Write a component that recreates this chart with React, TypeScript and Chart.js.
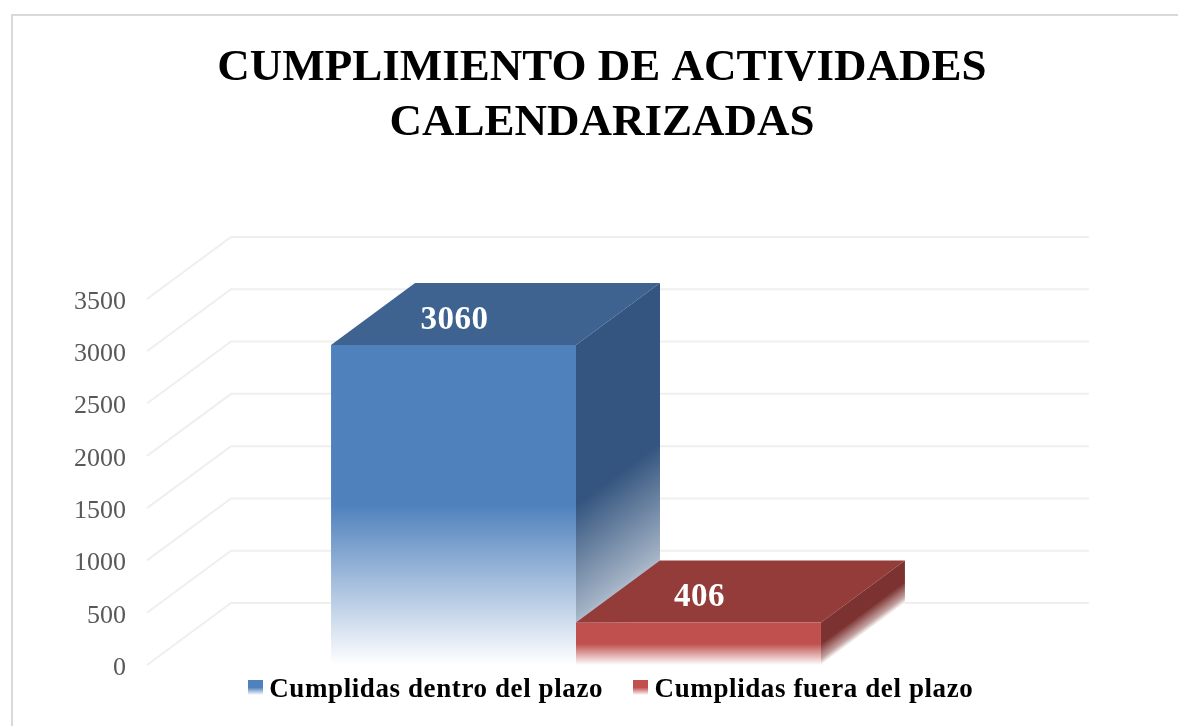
import React, { useEffect, useRef } from "react";
import { Chart, registerables } from "chart.js";

Chart.register(...registerables);

const categories = ["Actividades"];
const seriesNames = ["Cumplidas dentro del plazo", "Cumplidas fuera del plazo"];
const seriesValues = [[3060], [406]];
const frontColors = ["#4F81BD", "#C0504D"];
const topColors = ["#3E6391", "#933C39"];
const sideColors = ["#34557F", "#7C3230"];
const sideRgb = ["52,85,127", "124,50,48"];
const titleLines = ["CUMPLIMIENTO DE ACTIVIDADES", "CALENDARIZADAS"];

const SERIF = "'Liberation Serif', serif";
const DEPTH_X = 84;
const DEPTH_Y = -62;

function legendSwatch(color: string) {
  const c = document.createElement("canvas");
  c.width = 15;
  c.height = 21;
  const g = c.getContext("2d")!;
  const gr = g.createLinearGradient(0, 0, 0, 15);
  gr.addColorStop(0, color);
  gr.addColorStop(0.5, color);
  gr.addColorStop(1, "#ffffff");
  g.fillStyle = gr;
  g.fillRect(0, 0, 15, 15);
  return c;
}

const threeD = {
  id: "threeD",
  afterLayout(chart: any) {
    const shiftT = 602 - (chart.titleBlock.left + chart.titleBlock.right) / 2;
    chart.titleBlock.left += shiftT;
    chart.titleBlock.right += shiftT;
    const shiftL = 599 - (chart.legend.left + chart.legend.right) / 2;
    chart.legend.left += shiftL;
    chart.legend.right += shiftL;
    chart.legend.top -= 25.5;
    chart.legend.bottom = chart.height;
    for (const [box, sp] of [[chart.legend, "0.6px"]] as any[]) {
      if (!box.__wrapped) {
        const d = box.draw;
        box.draw = function (...a: any[]) {
          const ctx = chart.ctx;
          ctx.letterSpacing = sp;
          d.apply(box, a);
          ctx.letterSpacing = "0px";
        };
        box.__wrapped = true;
      }
    }
  },
  beforeDraw(chart: any) {
    const { ctx, width, height } = chart;
    ctx.save();
    ctx.fillStyle = "#fff";
    ctx.fillRect(0, 0, width, height);
    ctx.strokeStyle = "#d9d9d9";
    ctx.lineWidth = 2;
    ctx.strokeRect(12, 15, width + 40, height + 40);
    ctx.restore();
  },
  beforeDatasetsDraw(chart: any) {
    const { ctx, chartArea } = chart;
    const y = chart.scales.y;
    ctx.save();
    ctx.strokeStyle = "#efefef";
    ctx.lineWidth = 2;
    y.ticks.forEach((t: any) => {
      const py = y.getPixelForValue(t.value);
      ctx.beginPath();
      ctx.moveTo(chartArea.left, py);
      ctx.lineTo(chartArea.left + DEPTH_X, py + DEPTH_Y);
      ctx.lineTo(chartArea.right + DEPTH_X, py + DEPTH_Y);
      ctx.stroke();
    });
    chart.data.datasets.forEach((_: any, i: number) => {
      const bar = chart.getDatasetMeta(i).data[0];
      const x0 = bar.x - bar.width / 2;
      const x1 = bar.x + bar.width / 2;
      const top = bar.y;
      const base = bar.base;
      const mid = top + (base - top) * 0.5;
      ctx.fillStyle = topColors[i];
      ctx.beginPath();
      ctx.moveTo(x0, top);
      ctx.lineTo(x0 + DEPTH_X, top + DEPTH_Y);
      ctx.lineTo(x1 + DEPTH_X, top + DEPTH_Y);
      ctx.lineTo(x1, top);
      ctx.closePath();
      ctx.fill();
      // side face, sheared so the fade runs parallel to the floor
      ctx.save();
      ctx.transform(1, DEPTH_Y / DEPTH_X, 0, 1, x1, 0);
      ctx.fillStyle = "#fff";
      ctx.fillRect(0, mid, DEPTH_X, base - mid);
      const g = ctx.createLinearGradient(0, top, 0, base);
      g.addColorStop(0, sideColors[i]);
      g.addColorStop(0.5, sideColors[i]);
      g.addColorStop(0.85, `rgba(${sideRgb[i]},0.45)`);
      g.addColorStop(1, `rgba(${sideRgb[i]},0)`);
      ctx.fillStyle = g;
      ctx.fillRect(0, top, DEPTH_X, base - top);
      ctx.restore();
    });
    ctx.restore();
  },
  afterDatasetsDraw(chart: any) {
    const { ctx } = chart;
    ctx.save();
    ctx.fillStyle = "#fff";
    ctx.font = `bold 33px ${SERIF}`;
    ctx.letterSpacing = "0.5px";
    ctx.textAlign = "center";
    ctx.textBaseline = "middle";
    chart.data.datasets.forEach((ds: any, i: number) => {
      const bar = chart.getDatasetMeta(i).data[0];
      ctx.fillText(String(ds.data[0]), bar.x + 1, bar.y - 25);
    });
    ctx.letterSpacing = "0px";
    ctx.restore();
  },
};

export default function App() {
  const ref = useRef<HTMLCanvasElement>(null);
  useEffect(() => {
    const canvas = ref.current!;
    const swatches = frontColors.map((c) => legendSwatch(c));
    const chart = new Chart(canvas, {
      type: "bar",
      data: {
        labels: categories,
        datasets: seriesNames.map((name, i) => ({
          label: name,
          data: seriesValues[i],
          barPercentage: 1,
          categoryPercentage: 0.571,
          backgroundColor: (c: any) => {
            const ch = c.chart;
            if (!ch.chartArea || c.raw === undefined) return frontColors[i];
            const top = ch.scales.y.getPixelForValue(c.raw);
            const base = ch.scales.y.getPixelForValue(0);
            const g = ch.ctx.createLinearGradient(0, top, 0, base);
            g.addColorStop(0, frontColors[i]);
            g.addColorStop(0.5, frontColors[i]);
            g.addColorStop(1, "#ffffff");
            return g;
          },
        })),
      },
      options: {
        animation: false,
        responsive: false,
        layout: { padding: { left: 0, right: 173, top: 0, bottom: 14 } },
        plugins: {
          title: {
            display: true,
            text: titleLines,
            color: "#000",
            font: { family: SERIF, size: 45, weight: "bold", lineHeight: 1.222 },
            padding: { top: 41, bottom: 148 },
          },
          legend: {
            position: "bottom",
            maxHeight: 47,
            labels: {
              color: "#000",
              font: { family: SERIF, size: 27, weight: "bold" },
              boxWidth: 0.5,
              boxHeight: 15,
              padding: 37.5,
              usePointStyle: true,
              generateLabels: (ch: any) =>
                Chart.defaults.plugins.legend.labels
                  .generateLabels(ch)
                  .map((l: any, i: number) => ({ ...l, pointStyle: swatches[i] })),
            },
          },
          tooltip: { enabled: false },
        },
        scales: {
          x: { display: false },
          y: {
            min: 0,
            max: 3500,
            grid: { display: false },
            border: { display: false },
            afterFit: (s: any) => {
              s.width = 147;
            },
            ticks: {
              stepSize: 500,
              color: "#595959",
              padding: 13,
              labelOffset: 3,
              font: { family: SERIF, size: 26 },
              callback: (v: any) => String(v),
            },
          },
        },
      },
      plugins: [threeD],
    } as any);
    return () => chart.destroy();
  }, []);
  return (
    <canvas
      ref={ref}
      width={1178}
      height={726}
      style={{ position: "absolute", left: 0, top: 0, display: "block" }}
    />
  );
}
